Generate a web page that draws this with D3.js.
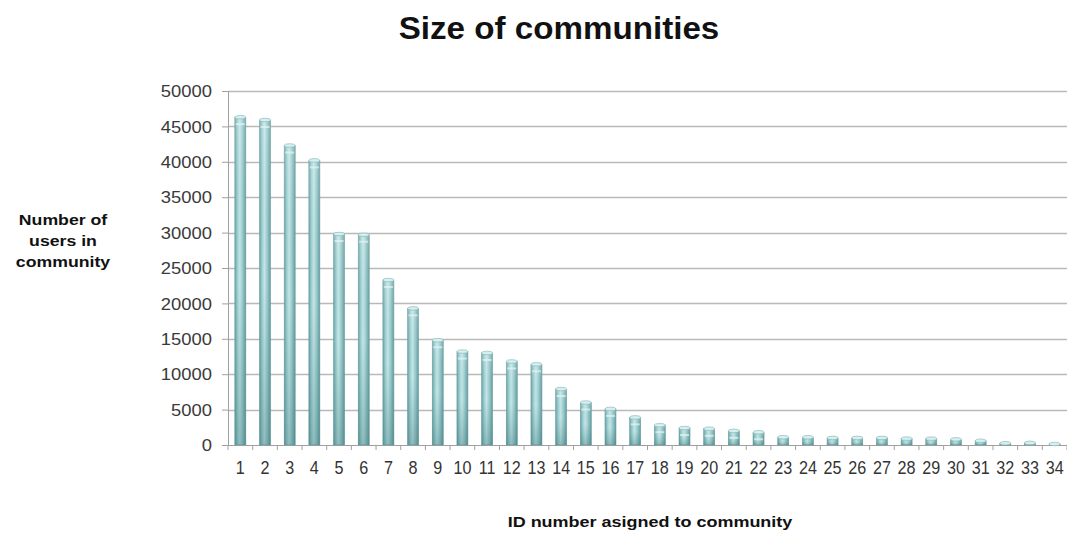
<!DOCTYPE html>
<html>
<head>
<meta charset="utf-8">
<script src="https://cdn.jsdelivr.net/npm/d3@7"></script>
<style>
  html, body { margin: 0; padding: 0; background: #ffffff; }
  svg { display: block; font-family: "Liberation Sans", Arial, sans-serif; }
</style>
</head>
<body>
<svg id="chart" width="1067" height="534"></svg>
<script>
// Community IDs and the number of users in each community
const communityIds = d3.range(1, 35).map(String);
const userCounts = [
  46300, 45900, 42300, 40200, 29800, 29700, 23300, 19300, 14800, 13200,
  13000, 11800, 11400, 7900, 6000, 5100, 3900, 2800, 2400, 2300,
  2000, 1800, 1100, 1100, 1000, 1000, 1000, 900, 900, 800,
  600, 250, 300, 150
];
const yTickValues = [0, 5000, 10000, 15000, 20000, 25000, 30000, 35000, 40000, 45000, 50000];

const chartTitle = "Size of communities";
const yTitleLines = ["Number of", "users in", "community"];
const xTitle = "ID number asigned to community";

const svg = d3.select("#chart");
const plotLeft = 228, plotRight = 1067, plotTop = 91, plotBottom = 445;

const x = d3.scaleBand().domain(communityIds).range([plotLeft, plotRight]).paddingInner(0).paddingOuter(0);
const y = d3.scaleLinear().domain([0, 50000]).range([plotBottom, plotTop]);

// Gradients giving the bars a glassy cylinder look
const defs = svg.append("defs");
const hg = defs.append("linearGradient").attr("id", "barH").attr("x1", 0).attr("x2", 1).attr("y1", 0).attr("y2", 0);
[[0, "#67a2a4"], [0.25, "#a3d2d4"], [0.45, "#c4e7e8"], [0.7, "#9ccbcd"], [1, "#629c9e"]]
  .forEach(([o, c]) => hg.append("stop").attr("offset", o).attr("stop-color", c));
const vg = defs.append("linearGradient").attr("id", "barV").attr("x1", 0).attr("x2", 0).attr("y1", 0).attr("y2", 1);
[[0, "#ffffff", 0.15], [0.5, "#3f7f80", 0.0], [1, "#2f6c6d", 0.35]]
  .forEach(([o, c, a]) => vg.append("stop").attr("offset", o).attr("stop-color", c).attr("stop-opacity", a));

// Horizontal gridlines
svg.append("g")
  .selectAll("line")
  .data(yTickValues.filter(v => v > 0))
  .join("line")
  .attr("x1", plotLeft).attr("x2", plotRight)
  .attr("y1", d => Math.round(y(d)) + 0.5).attr("y2", d => Math.round(y(d)) + 0.5)
  .attr("stroke", "#b9b9b9").attr("stroke-width", 1.5);

// Y axis
const yAxis = svg.append("g")
  .attr("transform", `translate(${plotLeft},0)`)
  .call(d3.axisLeft(y).tickValues(yTickValues).tickSize(6).tickPadding(10).tickFormat(d3.format("d")));
yAxis.select(".domain").attr("stroke", "#a0a0a0");
yAxis.selectAll(".tick line").attr("stroke", "#a0a0a0");
yAxis.selectAll(".tick text")
  .attr("fill", "#3a3a3a")
  .style("font-size", "16px")
  .attr("text-anchor", "end")
  .attr("dy", "0.36em")
  .each(function () {
    const t = d3.select(this);
    const xx = +t.attr("x");
    t.attr("transform", `translate(${xx},0) scale(1.15,1)`).attr("x", 0);
  });

// X axis
const xAxis = svg.append("g")
  .attr("transform", `translate(0,${plotBottom})`)
  .call(d3.axisBottom(x).tickSize(0).tickPadding(0));
xAxis.select(".domain").attr("stroke", "#a0a0a0");
xAxis.selectAll(".tick text").remove();
xAxis.selectAll(".tick line").remove();
// boundary tick marks between categories
xAxis.append("g").selectAll("line")
  .data(communityIds.concat(["end"]))
  .join("line")
  .attr("x1", (d, i) => plotLeft + i * x.bandwidth())
  .attr("x2", (d, i) => plotLeft + i * x.bandwidth())
  .attr("y1", 0).attr("y2", 5)
  .attr("stroke", "#a0a0a0");
svg.append("g").selectAll("text")
  .data(communityIds)
  .join("text")
  .attr("transform", d => `translate(${x(d) + x.bandwidth() / 2},474) scale(0.98,1.1)`)
  .attr("text-anchor", "middle")
  .attr("fill", "#333")
  .style("font-size", "16.5px")
  .text(d => d);

// Bars
const barW = 11;
const bars = svg.append("g");
const data = communityIds.map((id, i) => ({ id, v: userCounts[i] }));
bars.selectAll("rect.body")
  .data(data)
  .join("rect")
  .attr("class", "body")
  .attr("x", d => x(d.id) + x.bandwidth() / 2 - barW / 2)
  .attr("width", barW)
  .attr("y", d => y(d.v))
  .attr("height", d => plotBottom - y(d.v))
  .attr("fill", "url(#barH)")
  .attr("stroke", "#6e9fa1").attr("stroke-width", 0.6);
bars.selectAll("rect.shade")
  .data(data)
  .join("rect")
  .attr("class", "shade")
  .attr("x", d => x(d.id) + x.bandwidth() / 2 - barW / 2)
  .attr("width", barW)
  .attr("y", d => y(d.v))
  .attr("height", d => plotBottom - y(d.v))
  .attr("fill", "url(#barV)");
// light bands near the top of each cylinder
bars.selectAll("rect.band")
  .data(data.filter(d => d.v > 1500))
  .join("rect")
  .attr("class", "band")
  .attr("x", d => x(d.id) + x.bandwidth() / 2 - barW / 2 + 1)
  .attr("width", barW - 2)
  .attr("y", d => y(d.v) + 6)
  .attr("height", 2)
  .attr("fill", "#e4f5f5").attr("opacity", 0.7);
// cylinder caps
bars.selectAll("ellipse")
  .data(data)
  .join("ellipse")
  .attr("cx", d => x(d.id) + x.bandwidth() / 2)
  .attr("cy", d => y(d.v))
  .attr("rx", barW / 2)
  .attr("ry", 1.8)
  .attr("fill", "#d6f0f0")
  .attr("stroke", "#7fb0b2").attr("stroke-width", 0.6);

// Titles
svg.append("text")
  .attr("transform", "translate(559,39) scale(1.07,1)")
  .attr("text-anchor", "middle")
  .style("font-size", "31px").style("font-weight", "bold")
  .attr("fill", "#111")
  .text(chartTitle);

svg.append("g").selectAll("text")
  .data(yTitleLines)
  .join("text")
  .attr("transform", (d, i) => `translate(63,${225 + i * 21}) scale(1.22,1)`)
  .attr("text-anchor", "middle")
  .style("font-size", "14.5px").style("font-weight", "bold")
  .attr("fill", "#111")
  .text(d => d);

svg.append("text")
  .attr("transform", "translate(650,527) scale(1.2,1)")
  .attr("text-anchor", "middle")
  .style("font-size", "15px").style("font-weight", "bold")
  .attr("fill", "#111")
  .text(xTitle);
</script>
</body>
</html>
